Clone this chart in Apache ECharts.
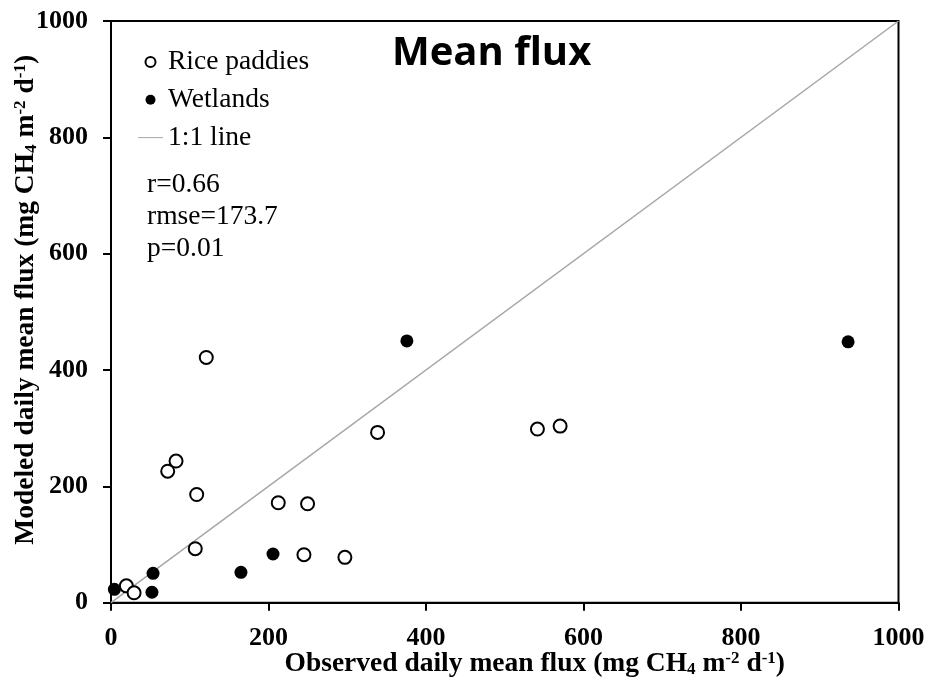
<!DOCTYPE html>
<html>
<head>
<meta charset="utf-8">
<script src="https://cdn.jsdelivr.net/npm/echarts@6/dist/echarts.min.js"></script>
<style>
html,body{margin:0;padding:0;background:#fff;}
#chart{width:928px;height:681px;}
</style>
</head>
<body>
<div id="chart"></div>
<script>
// Observed vs modeled daily mean CH4 flux (mg CH4 m-2 d-1)
var riceObserved = [121, 72, 82.6, 108.8, 107, 19.5, 29.3, 212.4, 249.6, 245, 297, 338.5, 541.5, 570.3];
var riceModeled  = [421.6, 226, 243.5, 186, 92.8, 29, 17, 171.8, 170, 82.5, 78, 292.8, 298.5, 303.6];
var wetObserved  = [4.3, 53.4, 52, 165, 205.7, 375.7, 936];
var wetModeled   = [23, 50.5, 18, 52.2, 83.7, 450, 448.5];
var oneToOne     = [[0, 0], [1000, 1000]];
var axisTicks    = [0, 200, 400, 600, 800, 1000];
var statsLines   = ['r=0.66', 'rmse=173.7', 'p=0.01'];
var seriesNames  = ['Rice paddies', 'Wetlands', '1:1 line'];

function pairs(xs, ys) { return xs.map(function (x, i) { return [x, ys[i]]; }); }

var serif = '"Liberation Serif", "Times New Roman", serif';
var richScript = {
  sub: { fontSize: 17, fontWeight: 'bold', fontFamily: serif, color: '#000', verticalAlign: 'bottom' },
  sup: { fontSize: 17, fontWeight: 'bold', fontFamily: serif, color: '#000', verticalAlign: 'top' }
};
var tickFmt = function (v) { return String(v); };

var chart = echarts.init(document.getElementById('chart'), null, { renderer: 'canvas' });
var option = {
  backgroundColor: '#fff',
  animation: false,
  title: {
    text: 'Mean flux', left: 387, top: 29,
    textStyle: { fontFamily: '"Open Sans", sans-serif', fontWeight: 'bold', fontSize: 40, color: '#000' }
  },
  grid: { left: 111, right: 29.5, top: 21, bottom: 78.3, show: true, borderColor: '#000', borderWidth: 2,
          containLabel: false, outerBoundsMode: 'none' },
  legend: {
    orient: 'vertical', left: 138, top: 48, padding: 0, itemGap: 9.8, itemWidth: 25, itemHeight: 10,
    data: [
      { name: seriesNames[0] },
      { name: seriesNames[1] },
      { name: seriesNames[2], icon: 'path://M0,0H25V1H0Z' }
    ],
    textStyle: { fontFamily: serif, fontSize: 27.5, color: '#000', lineHeight: 27 }
  },
  xAxis: {
    type: 'value', min: axisTicks[0], max: axisTicks[axisTicks.length - 1], interval: axisTicks[1] - axisTicks[0],
    name: 'Observed daily mean flux (mg CH{sub|4} m{sup|-2} d{sup|-1})',
    nameLocation: 'middle', nameGap: 47, nameMoveOverlap: false,
    nameTextStyle: { fontFamily: serif, fontWeight: 'bold', fontSize: 27.5, color: '#000', rich: richScript,
                     padding: [0, 0, 0, 60] },
    axisLine: { show: true, lineStyle: { color: '#000', width: 2 } },
    axisTick: { show: true, inside: false, length: 8, lineStyle: { color: '#000', width: 2 } },
    axisLabel: { fontFamily: serif, fontWeight: 'bold', fontSize: 26, color: '#000', margin: 23, formatter: tickFmt },
    splitLine: { show: false }
  },
  yAxis: {
    type: 'value', min: axisTicks[0], max: axisTicks[axisTicks.length - 1], interval: axisTicks[1] - axisTicks[0],
    name: 'Modeled daily mean flux (mg CH{sub|4} m{sup|-2} d{sup|-1})',
    nameLocation: 'middle', nameGap: 71, nameRotate: 90, nameMoveOverlap: false,
    nameTextStyle: { fontFamily: serif, fontWeight: 'bold', fontSize: 27.5, color: '#000', rich: richScript,
                     padding: [0, 0, 0, 24] },
    axisLine: { show: true, lineStyle: { color: '#000', width: 2 } },
    axisTick: { show: true, inside: false, length: 8, lineStyle: { color: '#000', width: 2 } },
    axisLabel: { fontFamily: serif, fontWeight: 'bold', fontSize: 26, color: '#000', margin: 23, formatter: tickFmt },
    splitLine: { show: false }
  },
  graphic: statsLines.map(function (t, i) {
    return {
      type: 'text', left: 147, top: 171 + i * 31.8, z: 10,
      style: { text: t, fontFamily: serif, fontSize: 27.5, fill: '#000' }
    };
  }),
  series: [
    {
      name: seriesNames[2], type: 'line', data: oneToOne, symbol: 'none', z: 1,
      lineStyle: { color: '#a6a6a6', width: 1.5 }, itemStyle: { color: '#a6a6a6' }
    },
    {
      name: seriesNames[0], type: 'scatter', data: pairs(riceObserved, riceModeled), symbol: 'circle', symbolSize: 13, z: 3,
      itemStyle: { color: '#fff', borderColor: '#000', borderWidth: 2, opacity: 1 }
    },
    {
      name: seriesNames[1], type: 'scatter', data: pairs(wetObserved, wetModeled), symbol: 'circle', symbolSize: 13, z: 4,
      itemStyle: { color: '#000', borderColor: '#000', borderWidth: 0, opacity: 1 }
    }
  ]
};
chart.setOption(option);
</script>
</body>
</html>
